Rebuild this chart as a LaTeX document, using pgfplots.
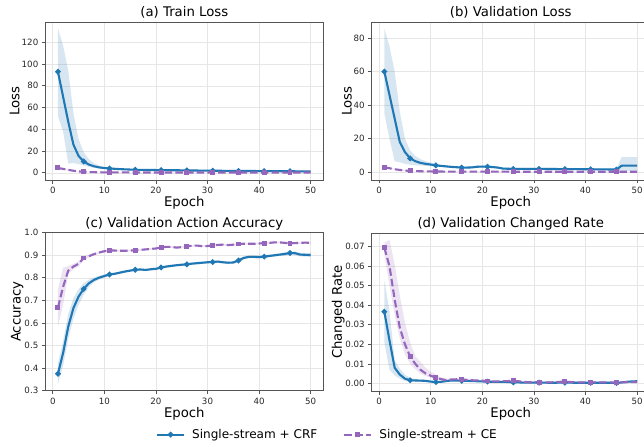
\documentclass[border=0pt]{standalone}
\usepackage{pgfplots}
\pgfplotsset{compat=1.18}
\usepackage{pgfplotstable}
\usepgfplotslibrary{fillbetween}
\usepackage{fontspec}
\setmainfont{DejaVu Sans}
\definecolor{cblue}{HTML}{1F77B4}
\definecolor{cpurp}{HTML}{9467BD}
\definecolor{spine}{HTML}{555555}
\definecolor{gridc}{HTML}{E6E6E6}

% (a) Train loss
\pgfplotstableread{
e crf clo chi ce elo ehi
1 93 52 133 4.5 3.7 5.3
2 70 38 117 3.6 2.9 4.3
3 47 8.5 94 2.7 2.1 3.3
4 26 9 55 1.9 1.5 2.3
5 15.5 8 31 1.3 1.0 1.6
6 10.4 7 19 0.9 0.6 1.2
7 7.6 5.5 12.5 0.7 0.4 1.0
8 6.0 4.6 8.8 0.6 0.35 0.85
9 5.0 4.0 6.6 0.5 0.3 0.7
10 4.4 3.6 5.4 0.45 0.25 0.65
11 4.0 3.3 4.8 0.4 0.2 0.6
12 3.7 3.1 4.4 0.4 0.2 0.6
13 3.4 2.9 4.0 0.35 0.2 0.5
14 3.2 2.7 3.7 0.35 0.2 0.5
15 3.0 2.5 3.5 0.35 0.2 0.5
16 2.8 2.3 3.3 0.3 0.15 0.45
17 2.7 2.2 3.2 0.3 0.15 0.45
18 2.65 2.15 3.15 0.3 0.15 0.45
19 2.6 2.1 3.1 0.3 0.15 0.45
20 2.55 2.05 3.05 0.3 0.15 0.45
21 2.5 2.0 3.0 0.3 0.15 0.45
22 2.45 1.95 2.95 0.3 0.15 0.45
23 2.4 1.9 2.9 0.3 0.15 0.45
24 2.35 1.85 2.85 0.3 0.15 0.45
25 2.3 1.8 2.8 0.3 0.15 0.45
26 2.2 1.7 2.7 0.3 0.15 0.45
27 2.15 1.65 2.65 0.3 0.15 0.45
28 2.1 1.6 2.6 0.3 0.15 0.45
29 2.05 1.55 2.55 0.3 0.15 0.45
30 2.0 1.5 2.5 0.3 0.15 0.45
31 1.95 1.45 2.45 0.3 0.15 0.45
32 1.9 1.4 2.4 0.3 0.15 0.45
33 1.85 1.35 2.35 0.3 0.15 0.45
34 1.8 1.3 2.3 0.3 0.15 0.45
35 1.8 1.3 2.3 0.3 0.15 0.45
36 1.75 1.25 2.25 0.3 0.15 0.45
37 1.7 1.2 2.2 0.3 0.15 0.45
38 1.7 1.2 2.2 0.3 0.15 0.45
39 1.65 1.15 2.15 0.3 0.15 0.45
40 1.6 1.1 2.1 0.3 0.15 0.45
41 1.6 1.1 2.1 0.3 0.15 0.45
42 1.55 1.05 2.05 0.3 0.15 0.45
43 1.5 1.0 2.0 0.3 0.15 0.45
44 1.5 1.0 2.0 0.3 0.15 0.45
45 1.45 0.95 1.95 0.3 0.15 0.45
46 1.45 0.95 1.95 0.3 0.15 0.45
47 1.4 0.9 1.9 0.3 0.15 0.45
48 1.4 0.9 1.9 0.3 0.15 0.45
49 1.35 0.85 1.85 0.3 0.15 0.45
50 1.35 0.85 1.85 0.3 0.15 0.45
}\tabA

% (b) Validation loss
\pgfplotstableread{
e crf clo chi ce elo ehi
1 60 35 85.5 3.0 2.5 3.5
2 46 20 75 2.4 2.0 2.8
3 32 6.5 60 1.8 1.5 2.1
4 18 6 36 1.4 1.1 1.7
5 12 5 20 1.0 0.8 1.2
6 8.3 4.5 13 0.8 0.6 1.0
7 6.6 4.2 9.8 0.7 0.5 0.9
8 5.6 4.0 7.8 0.6 0.45 0.75
9 5.0 3.8 6.6 0.55 0.4 0.7
10 4.6 3.6 5.8 0.5 0.35 0.65
11 4.1 3.4 5.0 0.45 0.3 0.6
12 3.8 3.2 4.5 0.45 0.3 0.6
13 3.5 3.0 4.1 0.4 0.25 0.55
14 3.2 2.7 3.8 0.4 0.25 0.55
15 3.0 2.5 3.6 0.4 0.25 0.55
16 2.8 2.3 3.4 0.35 0.2 0.5
17 2.8 2.3 3.4 0.35 0.2 0.5
18 2.9 2.4 3.5 0.35 0.2 0.5
19 3.3 2.7 3.9 0.35 0.2 0.5
20 3.4 2.8 4.0 0.35 0.2 0.5
21 3.3 2.7 3.9 0.35 0.2 0.5
22 3.1 2.5 3.7 0.35 0.2 0.5
23 2.8 2.2 3.4 0.35 0.2 0.5
24 2.2 1.6 2.8 0.35 0.2 0.5
25 2.1 1.5 2.7 0.35 0.2 0.5
26 2.0 1.4 2.6 0.3 0.15 0.45
27 2.0 1.4 2.6 0.3 0.15 0.45
28 2.0 1.4 2.6 0.3 0.15 0.45
29 2.0 1.4 2.6 0.3 0.15 0.45
30 2.0 1.4 2.6 0.3 0.15 0.45
31 2.0 1.4 2.6 0.3 0.15 0.45
32 2.0 1.4 2.6 0.3 0.15 0.45
33 1.95 1.35 2.55 0.3 0.15 0.45
34 1.95 1.35 2.55 0.3 0.15 0.45
35 1.9 1.3 2.5 0.3 0.15 0.45
36 1.9 1.3 2.5 0.3 0.15 0.45
37 1.9 1.3 2.5 0.3 0.15 0.45
38 1.85 1.25 2.45 0.3 0.15 0.45
39 1.85 1.25 2.45 0.3 0.15 0.45
40 1.8 1.2 2.4 0.3 0.15 0.45
41 1.8 1.2 2.4 0.3 0.15 0.45
42 1.75 1.15 2.35 0.3 0.15 0.45
43 1.7 1.1 2.3 0.3 0.15 0.45
44 1.7 1.1 2.3 0.3 0.15 0.45
45 1.65 1.05 2.25 0.3 0.15 0.45
46 1.6 1.0 2.2 0.3 0.15 0.45
47 3.9 0.9 9.0 0.3 0.15 0.45
48 4.0 0.9 9.0 0.3 0.15 0.45
49 4.0 0.9 9.0 0.3 0.15 0.45
50 4.0 0.9 9.0 0.3 0.15 0.45
}\tabB

% (c) Validation action accuracy
\pgfplotstableread{
e crf clo chi ce elo ehi
1 0.375 0.33 0.42 0.668 0.585 0.75
2 0.467 0.41 0.52 0.760 0.68 0.845
3 0.584 0.53 0.64 0.832 0.818 0.852
4 0.666 0.62 0.71 0.850 0.838 0.862
5 0.717 0.68 0.75 0.862 0.850 0.874
6 0.751 0.725 0.777 0.888 0.880 0.896
7 0.776 0.760 0.792 0.896 0.890 0.902
8 0.791 0.780 0.802 0.905 0.900 0.910
9 0.801 0.793 0.809 0.912 0.907 0.917
10 0.808 0.801 0.815 0.918 0.913 0.923
11 0.815 0.809 0.821 0.921 0.916 0.926
12 0.818 0.813 0.823 0.921 0.917 0.925
13 0.823 0.818 0.828 0.920 0.916 0.924
14 0.828 0.823 0.833 0.920 0.916 0.924
15 0.832 0.827 0.837 0.921 0.917 0.925
16 0.836 0.831 0.841 0.922 0.918 0.926
17 0.837 0.832 0.842 0.924 0.920 0.928
18 0.835 0.830 0.840 0.926 0.922 0.930
19 0.838 0.833 0.843 0.928 0.924 0.932
20 0.840 0.835 0.845 0.930 0.926 0.934
21 0.846 0.841 0.851 0.935 0.931 0.939
22 0.850 0.845 0.855 0.937 0.933 0.941
23 0.853 0.848 0.858 0.937 0.933 0.941
24 0.856 0.851 0.861 0.934 0.930 0.938
25 0.858 0.853 0.863 0.936 0.932 0.940
26 0.860 0.855 0.865 0.940 0.936 0.944
27 0.863 0.858 0.868 0.942 0.938 0.946
28 0.865 0.860 0.870 0.943 0.939 0.947
29 0.867 0.862 0.872 0.940 0.936 0.944
30 0.869 0.864 0.874 0.941 0.937 0.945
31 0.870 0.865 0.875 0.944 0.940 0.948
32 0.872 0.867 0.877 0.946 0.942 0.950
33 0.869 0.864 0.874 0.947 0.943 0.951
34 0.867 0.862 0.872 0.945 0.941 0.949
35 0.868 0.863 0.873 0.947 0.943 0.951
36 0.877 0.871 0.883 0.950 0.946 0.954
37 0.888 0.882 0.894 0.951 0.947 0.955
38 0.893 0.887 0.899 0.951 0.947 0.955
39 0.893 0.887 0.899 0.951 0.947 0.955
40 0.892 0.886 0.898 0.952 0.948 0.956
41 0.894 0.888 0.900 0.954 0.950 0.958
42 0.897 0.891 0.903 0.955 0.951 0.959
43 0.900 0.894 0.906 0.957 0.953 0.961
44 0.903 0.897 0.909 0.957 0.953 0.961
45 0.906 0.899 0.913 0.955 0.951 0.959
46 0.910 0.902 0.918 0.953 0.949 0.957
47 0.909 0.901 0.917 0.954 0.950 0.958
48 0.903 0.895 0.911 0.955 0.951 0.959
49 0.902 0.894 0.910 0.956 0.952 0.960
50 0.901 0.893 0.909 0.955 0.951 0.959
}\tabC

% (d) Validation changed rate
\pgfplotstableread{
e crf clo chi ce elo ehi
1 0.0367 0.021 0.053 0.0695 0.066 0.072
2 0.022 0.007 0.037 0.060 0.050 0.0735
3 0.0080 0.004 0.012 0.0430 0.035 0.061
4 0.0045 0.0025 0.0075 0.0285 0.023 0.045
5 0.0024 0.0012 0.0045 0.0200 0.015 0.031
6 0.0016 0.0008 0.0028 0.0138 0.010 0.021
7 0.0015 0.0008 0.0022 0.0100 0.0072 0.014
8 0.0014 0.0008 0.0020 0.0070 0.0050 0.011
9 0.0013 0.0008 0.0018 0.0051 0.0038 0.008
10 0.0009 0.0005 0.0014 0.0039 0.0030 0.006
11 0.0007 0.0003 0.0011 0.0029 0.0020 0.0045
12 0.0008 0.0004 0.0012 0.0022 0.0015 0.0030
13 0.0012 0.0008 0.0016 0.0016 0.0010 0.0024
14 0.0015 0.0011 0.0019 0.0020 0.0014 0.0026
15 0.0015 0.0011 0.0019 0.0021 0.0015 0.0027
16 0.0013 0.0009 0.0017 0.0020 0.0014 0.0026
17 0.0013 0.0009 0.0017 0.0018 0.0012 0.0024
18 0.0012 0.0008 0.0016 0.0016 0.0010 0.0022
19 0.0011 0.0007 0.0015 0.0015 0.0010 0.0020
20 0.0010 0.0006 0.0014 0.0014 0.0009 0.0019
21 0.0009 0.0005 0.0013 0.0012 0.0007 0.0017
22 0.0008 0.0004 0.0012 0.0010 0.0006 0.0014
23 0.0008 0.0004 0.0012 0.0010 0.0006 0.0014
24 0.0008 0.0004 0.0012 0.0011 0.0007 0.0015
25 0.0007 0.0003 0.0011 0.0012 0.0008 0.0016
26 0.0005 0.0002 0.0009 0.0013 0.0008 0.0018
27 0.0005 0.0002 0.0009 0.0011 0.0007 0.0015
28 0.0004 0.0001 0.0008 0.0008 0.0004 0.0012
29 0.0004 0.0001 0.0008 0.0006 0.0003 0.0010
30 0.0004 0.0001 0.0008 0.0006 0.0003 0.0010
31 0.0004 0.0001 0.0008 0.0006 0.0003 0.0010
32 0.0004 0.0001 0.0008 0.0005 0.0002 0.0009
33 0.0003 0.0000 0.0007 0.0005 0.0002 0.0009
34 0.0003 0.0000 0.0007 0.0006 0.0003 0.0010
35 0.0004 0.0001 0.0008 0.0008 0.0004 0.0012
36 0.0004 0.0001 0.0008 0.0009 0.0005 0.0013
37 0.0004 0.0001 0.0008 0.0007 0.0004 0.0011
38 0.0003 0.0000 0.0007 0.0006 0.0003 0.0010
39 0.0003 0.0000 0.0007 0.0005 0.0002 0.0009
40 0.0003 0.0000 0.0007 0.0005 0.0002 0.0009
41 0.0003 0.0000 0.0007 0.0005 0.0002 0.0009
42 0.0003 0.0000 0.0007 0.0005 0.0002 0.0009
43 0.0003 0.0000 0.0007 0.0005 0.0002 0.0009
44 0.0003 0.0000 0.0007 0.0005 0.0002 0.0009
45 0.0003 0.0000 0.0007 0.0005 0.0002 0.0009
46 0.0002 0.0000 0.0006 0.0004 0.0001 0.0008
47 0.0005 0.0002 0.0009 0.0005 0.0002 0.0009
48 0.0008 0.0004 0.0012 0.0006 0.0003 0.0010
49 0.0010 0.0006 0.0014 0.0007 0.0004 0.0011
50 0.0011 0.0007 0.0015 0.0007 0.0004 0.0011
}\tabD

\pgfplotsset{
  every axis title shift=0pt,
  myax/.style={
    scale only axis, width=278bp, height=158bp,
    xmin=-1.45, xmax=52.45,
    xtick={0,10,20,30,40,50},
    grid=major, major grid style={gridc, line width=0.6bp},
    axis line style={spine, line width=0.9bp},
    tick style={spine, line width=0.7bp},
    tick align=outside, tick pos=left, major tick length=3.5bp,
    ticklabel style={font=\fontsize{8.7}{10}\selectfont, text=black!85},
    /pgf/number format/assume math mode=true,
    label style={font=\fontsize{13.3}{15}\selectfont},
    title style={font=\fontsize{13.3}{15}\selectfont, at={(axis description cs:0.5,1.034)}, anchor=base, yshift=0pt},
    xlabel=Epoch,
    xlabel style={at={(axis description cs:0.5,-0.169)}, anchor=base},
    scaled y ticks=false,
    legend image code/.code={\draw[#1, mark repeat=2, mark phase=2] plot coordinates {(0bp,0bp) (13.5bp,0bp) (27bp,0bp)};},
  },
  crf/.style={cblue, line width=2.1bp, mark=*, mark size=1.6bp, mark repeat=5, mark phase=1, mark options={solid}},
  ce/.style={cpurp, line width=2.1bp, dash pattern=on 7.5bp off 3.2bp, mark=square*, mark size=1.4bp, mark repeat=5, mark phase=1, mark options={solid}},
  bnd/.style={draw=none, fill=#1, fill opacity=0.18, forget plot},
  hid/.style={draw=none, forget plot},
}

\begin{document}
\begin{tikzpicture}
% (a)
\begin{axis}[myax, at={(45.3bp,-22bp)}, anchor=north west,
  title={(a) Train Loss}, ylabel={Loss},
  ylabel style={at={(axis description cs:-0.0935,0.5)}, anchor=base},
  ymin=-6.6, ymax=138.7, ytick={0,20,40,60,80,100,120}]
  \addplot[hid, name path=al] table[x=e,y=clo]{\tabA};
  \addplot[hid, name path=ah] table[x=e,y=chi]{\tabA};
  \addplot[bnd=cblue] fill between[of=al and ah];
  \addplot[hid, name path=bl] table[x=e,y=elo]{\tabA};
  \addplot[hid, name path=bh] table[x=e,y=ehi]{\tabA};
  \addplot[bnd=cpurp] fill between[of=bl and bh];
  \addplot[crf] table[x=e,y=crf]{\tabA};
  \addplot[ce] table[x=e,y=ce]{\tabA};
\end{axis}
% (b)
\begin{axis}[myax, at={(371.7bp,-22bp)}, anchor=north west,
  title={(b) Validation Loss}, ylabel={Loss},
  ylabel style={at={(axis description cs:-0.072,0.5)}, anchor=base},
  ymin=-4.6, ymax=89.5, ytick={0,20,40,60,80}]
  \addplot[hid, name path=al] table[x=e,y=clo]{\tabB};
  \addplot[hid, name path=ah] table[x=e,y=chi]{\tabB};
  \addplot[bnd=cblue] fill between[of=al and ah];
  \addplot[hid, name path=bl] table[x=e,y=elo]{\tabB};
  \addplot[hid, name path=bh] table[x=e,y=ehi]{\tabB};
  \addplot[bnd=cpurp] fill between[of=bl and bh];
  \addplot[crf] table[x=e,y=crf]{\tabB};
  \addplot[ce] table[x=e,y=ce]{\tabB};
\end{axis}
% (c)
\begin{axis}[myax, at={(45.3bp,-232.7bp)}, anchor=north west,
  title={(c) Validation Action Accuracy}, ylabel={Accuracy},
  ylabel style={at={(axis description cs:-0.0885,0.5)}, anchor=base},
  ymin=0.3, ymax=1.0, ytick={0.3,0.4,0.5,0.6,0.7,0.8,0.9,1.0},
  yticklabel style={/pgf/number format/.cd, fixed, fixed zerofill, precision=1},
  legend style={at={(axis description cs:1.015,-0.278)}, anchor=center, draw=none, fill=none,
    legend columns=2, font=\fontsize{12.1}{14}\selectfont,
    /tikz/every odd column/.append style={column sep=5bp},
    /tikz/every even column/.append style={column sep=24bp}}]
  \addplot[hid, name path=al] table[x=e,y=clo]{\tabC};
  \addplot[hid, name path=ah] table[x=e,y=chi]{\tabC};
  \addplot[bnd=cblue] fill between[of=al and ah];
  \addplot[hid, name path=bl] table[x=e,y=elo]{\tabC};
  \addplot[hid, name path=bh] table[x=e,y=ehi]{\tabC};
  \addplot[bnd=cpurp] fill between[of=bl and bh];
  \addplot[crf] table[x=e,y=crf]{\tabC};
  \addlegendentry{Single-stream + CRF}
  \addplot[ce] table[x=e,y=ce]{\tabC};
  \addlegendentry{Single-stream + CE}
\end{axis}
% (d)
\begin{axis}[myax, at={(371.7bp,-233bp)}, anchor=north west,
  title={(d) Validation Changed Rate}, ylabel={Changed Rate},
  ylabel style={at={(axis description cs:-0.107,0.5)}, anchor=base},
  ymin=-0.0039, ymax=0.077, ytick={0,0.01,0.02,0.03,0.04,0.05,0.06,0.07},
  yticklabel style={/pgf/number format/.cd, fixed, fixed zerofill, precision=2}]
  \addplot[hid, name path=al] table[x=e,y=clo]{\tabD};
  \addplot[hid, name path=ah] table[x=e,y=chi]{\tabD};
  \addplot[bnd=cblue] fill between[of=al and ah];
  \addplot[hid, name path=bl] table[x=e,y=elo]{\tabD};
  \addplot[hid, name path=bh] table[x=e,y=ehi]{\tabD};
  \addplot[bnd=cpurp] fill between[of=bl and bh];
  \addplot[crf] table[x=e,y=crf]{\tabD};
  \addplot[ce] table[x=e,y=ce]{\tabD};
\end{axis}
\pgfresetboundingbox
\path[use as bounding box] (0,0) rectangle (644bp,-447bp);
\end{tikzpicture}
\end{document}
